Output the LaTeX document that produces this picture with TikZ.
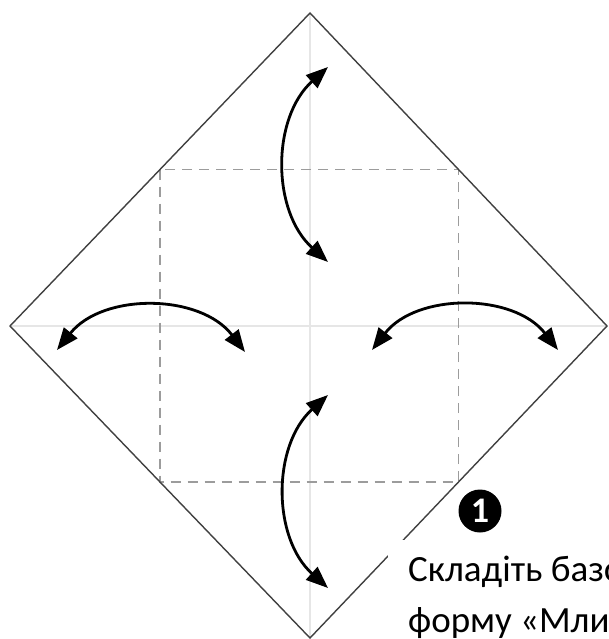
\documentclass[tikz,border=0pt]{standalone}
\usepackage{fontspec}
\setmainfont{Carlito}
\usepackage{tikz}
\usetikzlibrary{arrows.meta,calc}
\definecolor{creasegray}{HTML}{E6E6E6}
\definecolor{valleygray}{HTML}{9C9C9C}
\definecolor{edgegray}{HTML}{404040}

\begin{document}
\begin{tikzpicture}[x=1pt,y=1pt,>={Triangle[length=22pt,width=17pt]},
    every node/.style={font=\fontsize{37}{51}\selectfont},
    paper/.style={draw=edgegray,line width=1.4pt},
    crease/.style={draw=creasegray,line width=1.6pt},
    valley/.style={draw=valleygray,line width=1.8pt,dash pattern=on 10pt off 7pt},
    foldarrow/.style={<->,line width=2.8pt}]
  \useasboundingbox (0,0) rectangle (609,-639);
  \coordinate (top) at (310,-13);
  \coordinate (left) at (10,-326);
  \coordinate (right) at (607,-326);
  \coordinate (bottom) at (310,-638);
  \draw[crease] (top) -- (bottom);
  \draw[crease] (left) -- (right);
  \draw[valley] ($(top)!0.5!(left)$) rectangle ($(bottom)!0.5!(right)$);
  \draw[paper] (top) -- (right) -- (bottom) -- (left) -- cycle;
  \coordinate (upA) at (328,-67);
  \coordinate (upB) at (328,-262);
  \coordinate (downA) at (328,-395);
  \coordinate (downB) at (328,-588);
  \coordinate (westA) at (57,-350);
  \coordinate (westB) at (245,-352);
  \coordinate (eastA) at (372,-350);
  \coordinate (eastB) at (558,-350);
  \draw[foldarrow] (upA) to[bend right=48] (upB);
  \draw[foldarrow] (downA) to[bend right=48] (downB);
  \draw[foldarrow] (westA) to[bend left=52] (westB);
  \draw[foldarrow] (eastA) to[bend left=52] (eastB);
  \node[fill=white,anchor=north west,inner xsep=20pt,inner ysep=16pt,align=left] (caption) at (388,-540) {Складіть базову\\форму «Млин»};
  \node[circle,fill=black,text=white,minimum size=43pt,inner sep=0pt,font=\fontsize{36}{36}\bfseries\selectfont] (stepone) at (480,-511) {1};
\end{tikzpicture}
\end{document}
